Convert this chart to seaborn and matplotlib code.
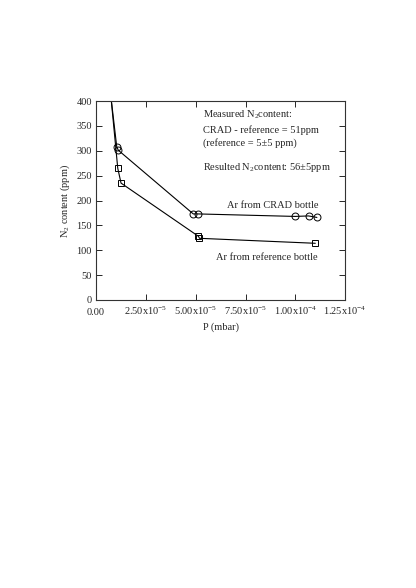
import matplotlib
matplotlib.use("Agg")
import matplotlib.pyplot as plt
import seaborn as sns
import pandas as pd

# Data
crad_p = [4.8e-6, 1.04e-5, 1.12e-5, 4.88e-5, 5.14e-5, 9.99e-5, 1.066e-4, 1.108e-4]
crad_n2 = [500, 308, 301, 173, 173, 168, 169, 166]
ref_p = [5.3e-6, 1.09e-5, 1.255e-5, 5.14e-5, 5.19e-5, 1.10e-4]
ref_n2 = [500, 265, 235, 128, 124, 114]

x_ticks = [0.0, 2.5e-5, 5.0e-5, 7.5e-5, 1.0e-4, 1.25e-4]
x_tick_labels = ["0.00", r"2.50x10$^{\mathsf{-}5}$", r"5.00x10$^{\mathsf{-}5}$",
                 r"7.50x10$^{\mathsf{-}5}$", r"1.00x10$^{\mathsf{-}4}$", r"1.25x10$^{\mathsf{-}4}$"]
y_ticks = [0, 50, 100, 150, 200, 250, 300, 350, 400]

sns.set_style("ticks")
plt.rcParams["font.family"] = ["Liberation Serif", "DejaVu Serif"]
plt.rcParams["mathtext.fontset"] = "custom"
plt.rcParams["mathtext.rm"] = "Liberation Serif"
plt.rcParams["mathtext.sf"] = "Liberation Serif"
plt.rcParams["mathtext.it"] = "Liberation Serif:italic"
plt.rcParams["mathtext.bf"] = "Liberation Serif:bold"

fig = plt.figure(figsize=(4.16, 5.88), dpi=100)
ax = fig.add_axes([0.2308, 0.4898, 0.599, 0.3384])

df_c = pd.DataFrame({"P": crad_p, "N2": crad_n2})
df_r = pd.DataFrame({"P": ref_p, "N2": ref_n2})

sns.lineplot(data=df_c, x="P", y="N2", ax=ax, color="black", lw=0.8,
             marker="o", markersize=5, markerfacecolor="none",
             markeredgecolor="black", markeredgewidth=0.7, estimator=None, sort=False)
sns.lineplot(data=df_r, x="P", y="N2", ax=ax, color="black", lw=0.8,
             marker="s", markersize=4.2, markerfacecolor="none",
             markeredgecolor="black", markeredgewidth=0.7, estimator=None, sort=False)

ax.set_xlim(0, 1.25e-4)
ax.set_ylim(0, 400)
ax.set_xticks(x_ticks)
ax.set_xticklabels(x_tick_labels)
ax.set_yticks(y_ticks)
ax.tick_params(direction="in", top=True, right=True, length=4, width=0.7,
               labelsize=7.5, pad=3)
ax.tick_params(axis="x", pad=11)
for lab in ax.get_xticklabels():
    lab.set_verticalalignment("baseline")
for s in ax.spines.values():
    s.set_linewidth(0.8)
    s.set_color("#333333")

ax.set_xlabel("P (mbar)", fontsize=7.5, labelpad=4)
ax.set_ylabel(r"N$_2$ content (ppm)", fontsize=7.5, labelpad=3)

fs = 7.5
ax.text(5.37e-5, 373, r"Measured N$_2$content:", fontsize=fs, va="center", ha="left")
ax.text(5.37e-5, 342, "CRAD - reference = 51ppm", fontsize=fs, va="center", ha="left")
ax.text(5.37e-5, 315, "(reference = 5±5 ppm)", fontsize=fs, va="center", ha="left")
ax.text(5.37e-5, 267, r"Resulted N$_2$content: 56±5ppm", fontsize=fs, va="center", ha="left")
ax.text(6.56e-5, 190, "Ar from CRAD bottle", fontsize=fs, va="center", ha="left")
ax.text(6.0e-5, 86, "Ar from reference bottle", fontsize=fs, va="center", ha="left")

fig.savefig("out.png", dpi=100)
